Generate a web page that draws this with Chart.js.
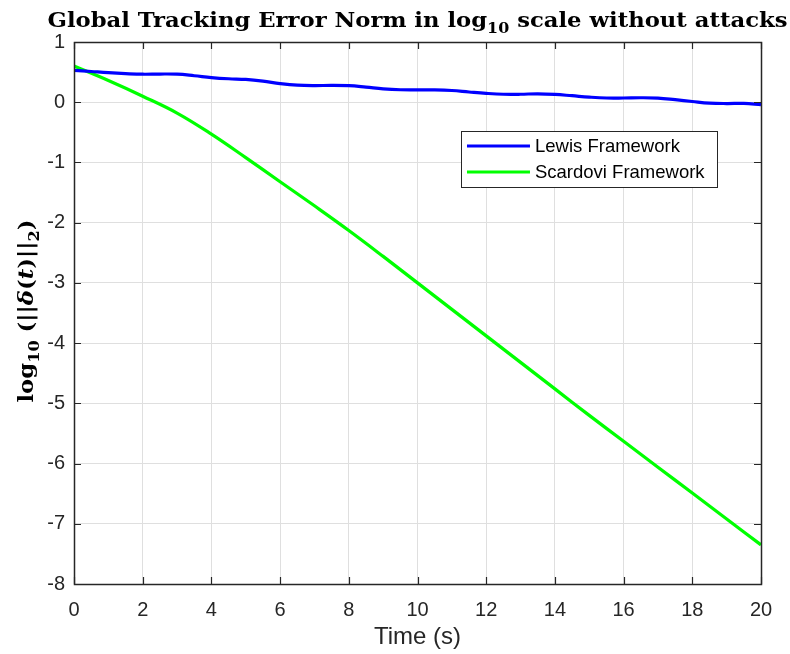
<!DOCTYPE html>
<html>
<head>
<meta charset="utf-8">
<script src="https://cdn.jsdelivr.net/npm/chart.js@4.4.1/dist/chart.umd.min.js"></script>
<style>
  html, body { margin: 0; padding: 0; background: #ffffff; }
  #wrap { width: 790px; height: 654px; }
</style>
</head>
<body>
<div id="wrap"><canvas id="c" width="790" height="654"></canvas></div>
<script>
// ---- data ----
const titleParts = [
  { t: 'Global Tracking Error Norm in log' },
  { t: '10', sub: true },
  { t: ' scale without attacks' }
];
const yLabelParts = [
  { t: 'log' }, { t: '10', sub: true }, { t: ' (||' }, { t: '\u03B4', it: true },
  { t: '(' }, { t: 't', it: true }, { t: ')||' }, { t: '2', sub: true }, { t: ')' }
];
const xAxisLabel = 'Time (s)';
const seriesNames = ['Lewis Framework', 'Scardovi Framework'];

const lewisTime = [0,0.5,1,1.5,2,2.5,3,3.5,4,4.5,5,5.5,6,6.5,7,7.5,8,8.5,9,9.5,10,10.5,11,11.5,12,12.5,13,13.5,14,14.5,15,15.5,16,16.5,17,17.5,18,18.5,19,19.5,20];
const lewisValues = [0.53,0.51,0.49,0.475,0.465,0.468,0.465,0.44,0.41,0.39,0.378,0.35,0.31,0.283,0.276,0.28,0.274,0.25,0.222,0.207,0.205,0.205,0.195,0.17,0.147,0.132,0.132,0.14,0.13,0.108,0.085,0.07,0.07,0.074,0.068,0.042,0.012,-0.015,-0.022,-0.02,-0.04];

const scardoviTime = [0,1,2,3,4,5,6,7,8,9,10,11,12,13,14,15,16,17,18,19,20];
const scardoviValues = [0.6,0.36,0.1,-0.18,-0.53,-0.92,-1.32,-1.72,-2.13,-2.56,-3.0,-3.44,-3.88,-4.32,-4.76,-5.2,-5.63,-6.06,-6.49,-6.92,-7.35];

const xTicks = [0,2,4,6,8,10,12,14,16,18,20];
const yTicks = [-8,-7,-6,-5,-4,-3,-2,-1,0,1];
const seriesColors = ['#0000ff', '#00ff00'];

const axisColor = '#262626';
const gridColor = '#dfdfdf';
const serif = '"DejaVu Serif", serif';

function toPoints(xs, ys) { return xs.map((x, i) => ({ x: x, y: ys[i] })); }

function partFont(p, size) {
  const s = p.sub ? Math.round(size * 0.7) : size;
  return (p.it ? 'italic ' : '') + 'bold ' + s + 'px ' + serif;
}
// draw a run of text with subscripts, centred at (0,0) baseline, squeezed/stretched to targetW
function drawRich(ctx, parts, size, targetW) {
  let total = 0;
  const widths = parts.map(p => { ctx.font = partFont(p, size); const w = ctx.measureText(p.t).width; total += w; return w; });
  const sx = targetW / total;
  ctx.scale(sx, 1);
  let x = -total / 2;
  ctx.textAlign = 'left';
  ctx.textBaseline = 'alphabetic';
  parts.forEach((p, i) => {
    ctx.font = partFont(p, size);
    ctx.fillText(p.t, x, p.sub ? size * 0.3 : 0);
    x += widths[i];
  });
}

const richTextPlugin = {
  id: 'richText',
  afterDraw(chart) {
    const ctx = chart.ctx, a = chart.chartArea;
    ctx.save();
    ctx.fillStyle = '#000000';
    ctx.translate((a.left + a.right) / 2, 27);
    drawRich(ctx, titleParts, 20, 740);
    ctx.restore();

    ctx.save();
    ctx.fillStyle = '#000000';
    ctx.translate(33, 311);
    ctx.rotate(-Math.PI / 2);
    drawRich(ctx, yLabelParts, 21, 183);
    ctx.restore();
  }
};

// frame + inward tick marks like MATLAB axes
const framePlugin = {
  id: 'frame',
  afterDatasetsDraw(chart) {
    const ctx = chart.ctx, a = chart.chartArea;
    const xs = chart.scales.x, ys = chart.scales.y;
    const tl = 7;
    ctx.save();
    ctx.strokeStyle = axisColor;
    ctx.lineWidth = 1.2;
    ctx.beginPath();
    xTicks.forEach(v => {
      const px = Math.round(xs.getPixelForValue(v)) + 0.5;
      ctx.moveTo(px, a.bottom); ctx.lineTo(px, a.bottom - tl);
      ctx.moveTo(px, a.top); ctx.lineTo(px, a.top + tl);
    });
    yTicks.forEach(v => {
      const py = Math.round(ys.getPixelForValue(v)) + 0.5;
      ctx.moveTo(a.left, py); ctx.lineTo(a.left + tl, py);
      ctx.moveTo(a.right, py); ctx.lineTo(a.right - tl, py);
    });
    ctx.stroke();
    ctx.lineWidth = 1.5;
    ctx.strokeRect(Math.round(a.left) + 0.5, Math.round(a.top) + 0.5,
                   Math.round(a.right - a.left), Math.round(a.bottom - a.top));
    ctx.restore();
  }
};

// legend box placed inside the axes
const boxLegendPlugin = {
  id: 'boxLegend',
  afterDraw(chart) {
    const ctx = chart.ctx, a = chart.chartArea;
    const w = a.right - a.left;
    const bx = a.left + w * 0.5633, by = a.top + 89;
    const bw = 256, bh = 56;
    ctx.save();
    ctx.fillStyle = '#ffffff';
    ctx.fillRect(bx, by, bw, bh);
    ctx.strokeStyle = axisColor;
    ctx.lineWidth = 1;
    ctx.strokeRect(Math.round(bx) + 0.5, Math.round(by) + 0.5, bw, bh);
    ctx.font = '18.5px "Liberation Sans", Arial, sans-serif';
    ctx.textBaseline = 'middle';
    ctx.textAlign = 'left';
    chart.data.datasets.forEach((ds, i) => {
      const ry = by + 15 + i * 26;
      ctx.strokeStyle = ds.borderColor;
      ctx.lineWidth = 3;
      ctx.beginPath();
      ctx.moveTo(bx + 6, ry); ctx.lineTo(bx + 69, ry);
      ctx.stroke();
      ctx.fillStyle = '#000000';
      ctx.fillText(ds.label, bx + 74, ry + 1);
    });
    ctx.restore();
  }
};

const cfg = {
  type: 'line',
  data: {
    datasets: [
      { label: seriesNames[0], data: toPoints(lewisTime, lewisValues), borderColor: seriesColors[0],
        backgroundColor: seriesColors[0], borderWidth: 3.2, pointRadius: 0, tension: 0.4, fill: false },
      { label: seriesNames[1], data: toPoints(scardoviTime, scardoviValues), borderColor: seriesColors[1],
        backgroundColor: seriesColors[1], borderWidth: 3.2, pointRadius: 0, tension: 0.4, fill: false }
    ]
  },
  options: {
    responsive: false,
    animation: false,
    devicePixelRatio: 1,
    layout: { padding: { left: 3, right: 29, top: 42, bottom: 0 } },
    plugins: {
      legend: { display: false },
      tooltip: { enabled: false },
      title: { display: false }
    },
    scales: {
      x: {
        type: 'linear', min: 0, max: 20,
        afterBuildTicks(s) { s.ticks = xTicks.map(v => ({ value: v })); },
        afterFit(s) { s.height = 70; },
        grid: { color: gridColor, drawTicks: false, lineWidth: 1 },
        border: { display: false },
        ticks: { color: axisColor, font: { family: '"Liberation Sans", Arial, sans-serif', size: 20 }, padding: 14, maxRotation: 0 },
        title: { display: true, text: xAxisLabel, color: axisColor,
                 font: { family: '"Liberation Sans", Arial, sans-serif', size: 24 }, padding: { top: 0, bottom: 2 } }
      },
      y: {
        type: 'linear', min: -8, max: 1,
        afterBuildTicks(s) { s.ticks = yTicks.map(v => ({ value: v })); },
        afterFit(s) { s.width = 71; },
        grid: { color: gridColor, drawTicks: false, lineWidth: 1 },
        border: { display: false },
        ticks: { color: axisColor, font: { family: '"Liberation Sans", Arial, sans-serif', size: 20 }, padding: 9 },
        title: { display: false }
      }
    }
  },
  plugins: [framePlugin, boxLegendPlugin, richTextPlugin]
};

new Chart(document.getElementById('c'), cfg);
</script>
</body>
</html>
